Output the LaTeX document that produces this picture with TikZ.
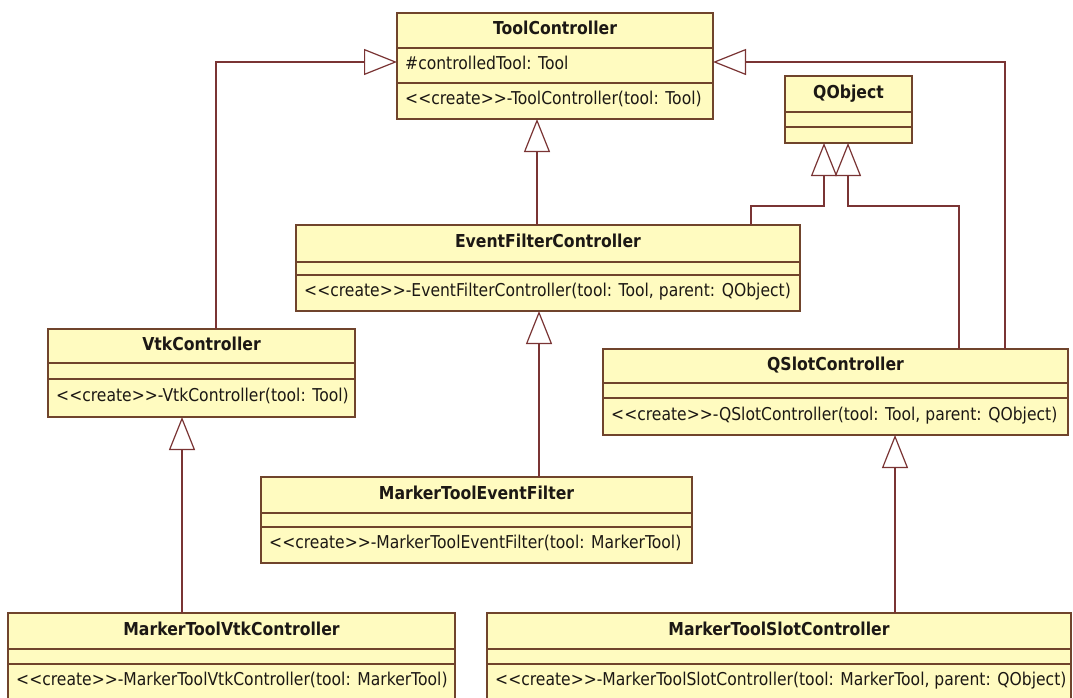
\documentclass[tikz,border=0pt]{standalone}
\usepackage{fontspec}
\setmainfont{DejaVu Sans}[FakeStretch=0.88]
\usetikzlibrary{arrows.meta}

\definecolor{classfill}{RGB}{255,251,192}
\definecolor{classline}{RGB}{112,68,44}
\definecolor{linkline}{RGB}{122,52,52}
\definecolor{textcol}{RGB}{28,24,20}

\tikzset{
  classbox/.style={rectangle, draw=classline, fill=classfill, line width=1.3pt,
    inner sep=0pt, outer sep=0pt},
  classrule/.style={draw=classline, line width=1.3pt},
  titletext/.style={font=\bfseries\fontsize{17.8}{20}\selectfont, text=textcol,
    inner sep=0pt, anchor=mid},
  membertext/.style={font=\fontsize{17.7}{20}\selectfont, text=textcol,
    inner sep=0pt, anchor=mid west},
  gen/.style={draw=linkline, line width=1.2pt,
    -{Triangle[open, length=33pt, width=26pt, line width=1.2pt]}},
}

% geometry: left, top, right, bottom, first rule, second rule (y grows downwards)
\def\umlclassgeom#1,#2,#3,#4,#5,#6\relax{%
  \def\bl{#1}\def\bt{#2}\def\br{#3}\def\bb{#4}\def\ra{#5}\def\rb{#6}}

% \umlclass{name}{geometry}{class name}{attributes}{operations}
\newcommand\umlclass[5]{%
  \umlclassgeom#2\relax
  \node[classbox, minimum width={(\br-\bl)*1pt}, minimum height={(\bb-\bt)*1pt}]
    (#1) at ({(\bl+\br)/2},{(\bt+\bb)/2}) {};
  \draw[classrule] (\bl,\ra) -- (\br,\ra);
  \draw[classrule] (\bl,\rb) -- (\br,\rb);
  \node[titletext] (#1-name) at ({(\bl+\br)/2},{(\bt+\ra)/2+1.5}) {#3};
  \if\relax\detokenize{#4}\relax\else
    \node[membertext] (#1-attr) at ({\bl+8},{(\ra+\rb)/2+1}) {#4};
  \fi
  \if\relax\detokenize{#5}\relax\else
    \node[membertext] (#1-ops) at ({\bl+8},{(\rb+\bb)/2+1}) {#5};
  \fi
}

\begin{document}
\begin{tikzpicture}[x=1pt, y=-1pt]
  \useasboundingbox (0,0) rectangle (1073,697);
  \fill[white] (0,0) rectangle (1073,697);
  \clip (0,0) rectangle (1073,697);

  \umlclass{tc}{397,13,713,119,48,83}{ToolController}{\#controlledTool: Tool}
    {<{}<create>{}>-ToolController(tool: Tool)}
  \umlclass{qo}{785,76,912,143,112,127}{QObject}{}{}
  \umlclass{efc}{296,225,800,311,262,275}{EventFilterController}{}
    {<{}<create>{}>-EventFilterController(tool: Tool, parent: QObject)}
  \umlclass{vtk}{48,329,355,417,363,379}{VtkController}{}
    {<{}<create>{}>-VtkController(tool: Tool)}
  \umlclass{qsc}{603,349,1068,435,383,398}{QSlotController}{}
    {<{}<create>{}>-QSlotController(tool: Tool, parent: QObject)}
  \umlclass{mtef}{261,477,692,563,513,527}{MarkerToolEventFilter}{}
    {<{}<create>{}>-MarkerToolEventFilter(tool: MarkerTool)}
  \umlclass{mtvc}{8,613,455,700,649,664}{MarkerToolVtkController}{}
    {<{}<create>{}>-MarkerToolVtkController(tool: MarkerTool)}
  \umlclass{mtsc}{487,613,1071,700,649,664}{MarkerToolSlotController}{}
    {<{}<create>{}>-MarkerToolSlotController(tool: MarkerTool, parent: QObject)}

  % generalisations
  \draw[gen] ([xshift=14.5pt]vtk.north) |- ([yshift=4pt]tc.west);
  \draw[gen] ([xshift=169.5pt]qsc.north) |- ([yshift=4pt]tc.east);
  \draw[gen] ([xshift=-11pt]efc.north) -- ([xshift=-18pt]tc.south);
  \draw[gen] ([xshift=203pt]efc.north) -- ++(0,-19) -| ([xshift=-24.5pt]qo.south);
  \draw[gen] ([xshift=123.5pt]qsc.north) -- ++(0,-143) -| ([xshift=-0.5pt]qo.south);
  \draw[gen] ([xshift=62.5pt]mtef.north) -- ([xshift=-9pt]efc.south);
  \draw[gen] ([xshift=-49.5pt]mtvc.north) -- ([xshift=-19.5pt]vtk.south);
  \draw[gen] ([xshift=116pt]mtsc.north) -- ([xshift=59.5pt]qsc.south);
\end{tikzpicture}
\end{document}
